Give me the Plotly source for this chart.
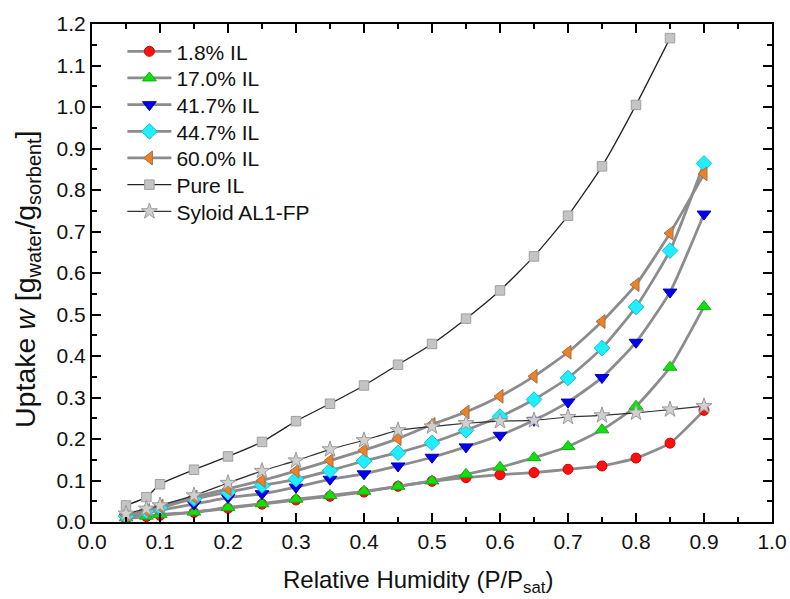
import plotly.graph_objects as go

x_rh = [0.05, 0.08, 0.1, 0.15, 0.2, 0.25, 0.3, 0.35, 0.4, 0.45, 0.5,
        0.55, 0.6, 0.65, 0.7, 0.75, 0.8, 0.85, 0.9]
x_pure = x_rh[:-1]

il_1_8 = [0.008, 0.013, 0.016, 0.023, 0.033, 0.043, 0.053, 0.062, 0.072, 0.086,
          0.098, 0.107, 0.114, 0.119, 0.127, 0.135, 0.154, 0.190, 0.269]
il_17_0 = [0.010, 0.014, 0.018, 0.024, 0.035, 0.044, 0.055, 0.064, 0.074, 0.086,
           0.099, 0.115, 0.132, 0.155, 0.182, 0.222, 0.279, 0.373, 0.519]
il_41_7 = [0.012, 0.022, 0.028, 0.043, 0.059, 0.068, 0.084, 0.103, 0.116, 0.135,
           0.156, 0.181, 0.209, 0.245, 0.289, 0.348, 0.433, 0.554, 0.742]
il_44_7 = [0.014, 0.026, 0.034, 0.056, 0.072, 0.088, 0.103, 0.124, 0.147, 0.167,
           0.191, 0.221, 0.254, 0.295, 0.347, 0.419, 0.518, 0.654, 0.864]
il_60_0 = [0.016, 0.028, 0.038, 0.060, 0.080, 0.100, 0.123, 0.148, 0.173, 0.201,
           0.235, 0.265, 0.303, 0.351, 0.409, 0.483, 0.572, 0.696, 0.839]
pure_il = [0.040, 0.060, 0.091, 0.126, 0.158, 0.193, 0.243, 0.285, 0.329, 0.379,
           0.429, 0.490, 0.558, 0.640, 0.738, 0.857, 1.005, 1.166]
syloid = [0.020, 0.032, 0.040, 0.064, 0.094, 0.123, 0.148, 0.175, 0.197, 0.221,
          0.230, 0.238, 0.243, 0.245, 0.253, 0.257, 0.263, 0.271, 0.279]

x_ticks = [0.0, 0.1, 0.2, 0.3, 0.4, 0.5, 0.6, 0.7, 0.8, 0.9, 1.0]
y_ticks = [0.0, 0.1, 0.2, 0.3, 0.4, 0.5, 0.6, 0.7, 0.8, 0.9, 1.0, 1.1, 1.2]

FONT = "Liberation Sans, Arial, sans-serif"

series = [
    ("1.8% IL", x_rh, il_1_8, "circle", "#ff1010", "#d00000", 10, "#8c8c8c", 2.8),
    ("17.0% IL", x_rh, il_17_0, "triangle-up", "#10e010", "#10b010", 12, "#8c8c8c", 2.8),
    ("41.7% IL", x_rh, il_41_7, "triangle-down", "#0000f0", "#0000b0", 12, "#8c8c8c", 2.8),
    ("44.7% IL", x_rh, il_44_7, "diamond", "#20eeff", "#10c0d0", 12, "#8c8c8c", 2.8),
    ("60.0% IL", x_rh, il_60_0, "triangle-left", "#f08020", "#a07050", 12, "#8c8c8c", 2.8),
    ("Pure IL", x_pure, pure_il, "square", "#c4c4c4", "#a0a0a0", 9.5, "#222222", 1.3),
    ("Syloid AL1-FP", x_rh, syloid, "star", "#d0d0d0", "#9a9a9a", 12, "#333333", 1.2),
]

# legend entry vertical centres (paper fraction)
legend_y = [0.9444, 0.8910, 0.8373, 0.7837, 0.7303, 0.6767, 0.6231]

fig = go.Figure()
legend_layout = {}
for i, (name, xs, ys, sym, fc, lc, sz, linec, lw) in enumerate(series):
    key = "legend" if i == 0 else f"legend{i + 1}"
    fig.add_trace(go.Scatter(
        x=xs, y=ys, name=name, mode="lines+markers",
        line=dict(color=linec, width=lw, shape="spline", smoothing=0.5),
        marker=dict(symbol=sym, size=sz, color=fc, line=dict(color=lc, width=1)),
        legend=key,
    ))
    legend_layout[key] = dict(
        x=0.0447, y=legend_y[i], xanchor="left", yanchor="middle",
        bgcolor="rgba(0,0,0,0)", borderwidth=0, itemwidth=44,
        font=dict(family=FONT, size=21, color="#111111"),
    )

axis_common = dict(
    showline=True, linecolor="black", linewidth=2, mirror="ticks",
    ticks="inside", ticklen=9, tickwidth=1.6, tickcolor="black",
    showgrid=False, zeroline=False, automargin=False,
    tickfont=dict(family=FONT, size=21, color="#111111"),
    minor=dict(ticks="inside", ticklen=5, tickwidth=1.6, tickcolor="black", showgrid=False),
)

fig.update_xaxes(range=[0, 1.0], tickvals=x_ticks, ticktext=[f"{v:.1f}" for v in x_ticks],
                 minor_tickvals=[v + 0.05 for v in x_ticks[:-1]], **axis_common)
fig.update_yaxes(range=[0, 1.2], tickvals=y_ticks, ticktext=[f"{v:.1f}" for v in y_ticks],
                 minor_tickvals=[v + 0.05 for v in y_ticks[:-1]], **axis_common)

fig.update_layout(
    width=790, height=599,
    margin=dict(l=92, r=18, t=24, b=77, autoexpand=False),
    paper_bgcolor="white", plot_bgcolor="white",
    font=dict(family=FONT, color="#111111"),
    showlegend=True,
    annotations=[
        dict(text="Uptake <i>w</i> [g<sub>water</sub>/g<sub>sorbent</sub>]",
             xref="paper", yref="paper", x=-0.0956, y=0.488,
             xanchor="center", yanchor="middle", textangle=-90, showarrow=False,
             font=dict(family=FONT, size=28.5, color="#111111")),
        dict(text="Relative Humidity (P/P<sub>sat</sub>)",
             xref="paper", yref="paper", x=0.479, y=-0.1185,
             xanchor="center", yanchor="middle", showarrow=False,
             font=dict(family=FONT, size=24, color="#111111")),
    ],
    **legend_layout,
)

fig.write_html("out.html", config={"displayModeBar": False},
               post_script="document.body.style.margin='0';")
